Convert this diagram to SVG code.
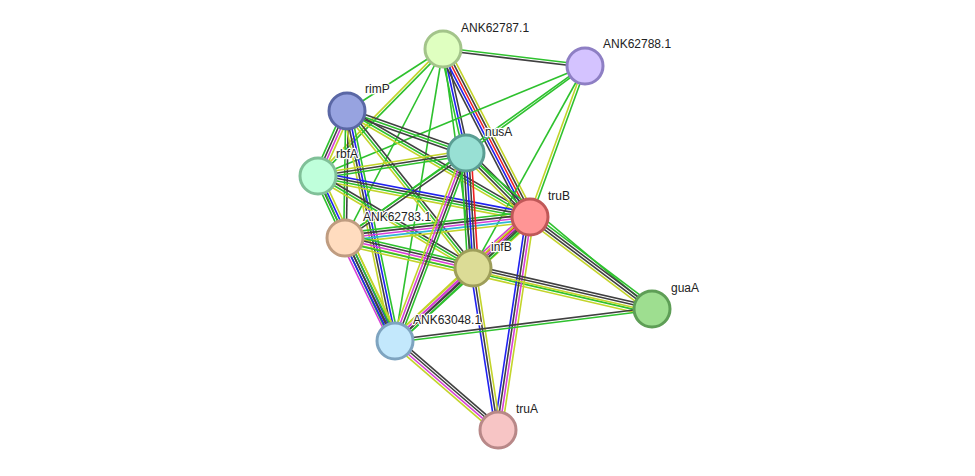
<svg xmlns="http://www.w3.org/2000/svg" width="975" height="476" viewBox="0 0 975 476">
<style>
line{stroke-width:1.6;fill:none}
.G{stroke:#2ec12e}.Y{stroke:#c3d42a}.K{stroke:#404040}.M{stroke:#d63fd6}.C{stroke:#2fb6d8}.B{stroke:#2020f0}.R{stroke:#f02020}
circle{stroke-width:3}
text{font-family:"Liberation Sans",Arial,sans-serif;font-size:12px;fill:#222;stroke:#fff;stroke-width:2.5;paint-order:stroke;stroke-linejoin:round}
</style>
<rect width="975" height="476" fill="#fff"/>
<g id="edges">
<g transform="translate(443,49) rotate(6.83)"><line class="G" x2="143" y1="-1.3" y2="-1.3"/><line class="K" x2="143" y1="1.3" y2="1.3"/></g>
<g transform="translate(443,49) rotate(147.14)"><line class="G" x2="114.3"/></g>
<g transform="translate(443,49) rotate(134.55)"><line class="G" x2="178.2" y1="-1.3" y2="-1.3"/><line class="Y" x2="178.2" y1="1.3" y2="1.3"/></g>
<g transform="translate(443,49) rotate(117.4)"><line class="G" x2="212.9"/></g>
<g transform="translate(443,49) rotate(77.53)"><line class="G" x2="106.5" y1="2.6" y2="2.6"/><line class="B" x2="106.5"/><line class="K" x2="106.5" y1="-2.6" y2="-2.6"/></g>
<g transform="translate(443,49) rotate(62.62)"><line class="Y" x2="189.2" y1="-5.2" y2="-5.2"/><line class="K" x2="189.2" y1="-2.6" y2="-2.6"/><line class="R" x2="189.2"/><line class="B" x2="189.2" y1="2.6" y2="2.6"/><line class="K" x2="189.2" y1="5.2" y2="5.2"/></g>
<g transform="translate(443,49) rotate(82.2)"><line class="G" x2="221"/></g>
<g transform="translate(443,49) rotate(99.33)"><line class="G" x2="295.9"/></g>
<g transform="translate(585,66) rotate(143.83)"><line class="G" x2="147.4" y1="-0.8" y2="-0.8"/></g>
<g transform="translate(585,66) rotate(157.61)"><line class="G" x2="288.8"/></g>
<g transform="translate(585,66) rotate(110)"><line class="G" x2="160.7" y1="-1.3" y2="-1.3"/><line class="Y" x2="160.7" y1="1.3" y2="1.3"/></g>
<g transform="translate(585,66) rotate(119)"><line class="G" x2="231"/></g>
<g transform="translate(585,66) rotate(144.4)"><line class="G" x2="295.3" y1="0.8" y2="0.8"/></g>
<g transform="translate(347,111) rotate(114.04)"><line class="Y" x2="71.2" y1="-3.9" y2="-3.9"/><line class="M" x2="71.2" y1="-1.3" y2="-1.3"/><line class="K" x2="71.2" y1="1.3" y2="1.3"/><line class="G" x2="71.2" y1="3.9" y2="3.9"/></g>
<g transform="translate(347,111) rotate(90.9)"><line class="K" x2="127" y1="-1.3" y2="-1.3"/><line class="G" x2="127" y1="1.3" y2="1.3"/></g>
<g transform="translate(347,111) rotate(78.21)"><line class="G" x2="235" y1="-3.9" y2="-3.9"/><line class="B" x2="235" y1="-1.3" y2="-1.3"/><line class="K" x2="235" y1="1.3" y2="1.3"/><line class="Y" x2="235" y1="3.9" y2="3.9"/></g>
<g transform="translate(347,111) rotate(19.44)"><line class="K" x2="126.2" y1="-2.6" y2="-2.6"/><line class="G" x2="126.2"/><line class="K" x2="126.2" y1="2.6" y2="2.6"/></g>
<g transform="translate(347,111) rotate(30.08)"><line class="K" x2="211.5" y1="-2.6" y2="-2.6"/><line class="G" x2="211.5"/><line class="Y" x2="211.5" y1="2.6" y2="2.6"/></g>
<g transform="translate(347,111) rotate(51.25)"><line class="K" x2="201.3" y1="-2.6" y2="-2.6"/><line class="G" x2="201.3"/><line class="Y" x2="201.3" y1="2.6" y2="2.6"/></g>
<g transform="translate(318,176) rotate(-8.83)"><line class="Y" x2="149.8" y1="-2.6" y2="-2.6"/><line class="K" x2="149.8"/><line class="G" x2="149.8" y1="2.6" y2="2.6"/></g>
<g transform="translate(318,176) rotate(10.95)"><line class="B" x2="215.9" y1="-3.9" y2="-3.9"/><line class="K" x2="215.9" y1="-1.3" y2="-1.3"/><line class="G" x2="215.9" y1="1.3" y2="1.3"/><line class="Y" x2="215.9" y1="3.9" y2="3.9"/></g>
<g transform="translate(318,176) rotate(30.69)"><line class="K" x2="180.2" y1="-2.6" y2="-2.6"/><line class="G" x2="180.2"/><line class="Y" x2="180.2" y1="2.6" y2="2.6"/></g>
<g transform="translate(318,176) rotate(64.98)"><line class="Y" x2="182.1" y1="-3.9" y2="-3.9"/><line class="B" x2="182.1" y1="-1.3" y2="-1.3"/><line class="K" x2="182.1" y1="1.3" y2="1.3"/><line class="G" x2="182.1" y1="3.9" y2="3.9"/></g>
<g transform="translate(318,176) rotate(66.46)"><line class="G" x2="67.6"/></g>
<g transform="translate(345,238) rotate(-35.09)"><line class="G" x2="147.9" y1="-1.3" y2="-1.3"/><line class="K" x2="147.9" y1="1.3" y2="1.3"/></g>
<g transform="translate(345,238) rotate(-6.48)"><line class="G" x2="186.2" y1="-5.2" y2="-5.2"/><line class="K" x2="186.2" y1="-2.6" y2="-2.6"/><line class="M" x2="186.2"/><line class="C" x2="186.2" y1="2.6" y2="2.6"/><line class="Y" x2="186.2" y1="5.2" y2="5.2"/></g>
<g transform="translate(345,238) rotate(13.19)"><line class="G" x2="131.5" y1="-3.9" y2="-3.9"/><line class="K" x2="131.5" y1="-1.3" y2="-1.3"/><line class="M" x2="131.5" y1="1.3" y2="1.3"/><line class="Y" x2="131.5" y1="3.9" y2="3.9"/></g>
<g transform="translate(345,238) rotate(64.1)"><line class="Y" x2="114.5" y1="-5.2" y2="-5.2"/><line class="G" x2="114.5" y1="-2.6" y2="-2.6"/><line class="K" x2="114.5"/><line class="B" x2="114.5" y1="2.6" y2="2.6"/><line class="M" x2="114.5" y1="5.2" y2="5.2"/></g>
<g transform="translate(345,238) rotate(13.02)"><line class="G" x2="315.1" y1="4.5" y2="4.5"/><line class="Y" x2="315.1" y1="7.1" y2="7.1"/></g>
<g transform="translate(466,153) rotate(45)"><line class="K" x2="90.5" y1="-3.9" y2="-3.9"/><line class="G" x2="90.5" y1="-1.3" y2="-1.3"/><line class="K" x2="90.5" y1="1.3" y2="1.3"/><line class="Y" x2="90.5" y1="3.9" y2="3.9"/></g>
<g transform="translate(466,153) rotate(86.52)"><line class="R" x2="115.2" y1="-5.2" y2="-5.2"/><line class="K" x2="115.2" y1="-2.6" y2="-2.6"/><line class="B" x2="115.2"/><line class="K" x2="115.2" y1="2.6" y2="2.6"/><line class="G" x2="115.2" y1="5.2" y2="5.2"/></g>
<g transform="translate(466,153) rotate(110.69)"><line class="G" x2="201" y1="-3.9" y2="-3.9"/><line class="K" x2="201" y1="-1.3" y2="-1.3"/><line class="M" x2="201" y1="1.3" y2="1.3"/><line class="Y" x2="201" y1="3.9" y2="3.9"/></g>
<g transform="translate(466,153) rotate(39.99)"><line class="G" x2="242.8"/></g>
<g transform="translate(530,217) rotate(138.18)"><line class="Y" x2="76.5" y1="-5.2" y2="-5.2"/><line class="G" x2="76.5" y1="-2.6" y2="-2.6"/><line class="K" x2="76.5"/><line class="R" x2="76.5" y1="2.6" y2="2.6"/><line class="M" x2="76.5" y1="5.2" y2="5.2"/></g>
<g transform="translate(530,217) rotate(37.02)"><line class="G" x2="152.8" y1="-3.9" y2="-3.9"/><line class="K" x2="152.8" y1="-1.3" y2="-1.3"/><line class="K" x2="152.8" y1="1.3" y2="1.3"/><line class="Y" x2="152.8" y1="3.9" y2="3.9"/></g>
<g transform="translate(530,217) rotate(137.43)"><line class="G" x2="183.3" y1="-3.9" y2="-3.9"/><line class="K" x2="183.3" y1="-1.3" y2="-1.3"/><line class="M" x2="183.3" y1="1.3" y2="1.3"/><line class="Y" x2="183.3" y1="3.9" y2="3.9"/></g>
<g transform="translate(530,217) rotate(98.54)"><line class="Y" x2="215.4" y1="-3.9" y2="-3.9"/><line class="M" x2="215.4" y1="-1.3" y2="-1.3"/><line class="K" x2="215.4" y1="1.3" y2="1.3"/><line class="B" x2="215.4" y1="3.9" y2="3.9"/></g>
<g transform="translate(473,268) rotate(12.9)"><line class="K" x2="183.6" y1="-2.6" y2="-2.6"/><line class="K" x2="183.6"/><line class="Y" x2="183.6" y1="2.6" y2="2.6"/></g>
<g transform="translate(473,268) rotate(136.9)"><line class="G" x2="106.8" y1="-3.9" y2="-3.9"/><line class="K" x2="106.8" y1="-1.3" y2="-1.3"/><line class="M" x2="106.8" y1="1.3" y2="1.3"/><line class="Y" x2="106.8" y1="3.9" y2="3.9"/></g>
<g transform="translate(473,268) rotate(81.23)"><line class="Y" x2="163.9" y1="-2.6" y2="-2.6"/><line class="K" x2="163.9"/><line class="B" x2="163.9" y1="2.6" y2="2.6"/></g>
<g transform="translate(395,341) rotate(-7.1)"><line class="K" x2="259" y1="-1.3" y2="-1.3"/><line class="G" x2="259" y1="1.3" y2="1.3"/></g>
<g transform="translate(395,341) rotate(40.83)"><line class="K" x2="136.1" y1="-3.9" y2="-3.9"/><line class="K" x2="136.1" y1="-1.3" y2="-1.3"/><line class="M" x2="136.1" y1="1.3" y2="1.3"/><line class="Y" x2="136.1" y1="3.9" y2="3.9"/></g>
</g>
<g id="ANK62787.1"><circle cx="443" cy="49" r="18" fill="#dfffc0" stroke="#a3c48a"/><text x="461" y="32">ANK62787.1</text></g>
<g id="ANK62788.1"><circle cx="585" cy="66" r="18" fill="#d4c3ff" stroke="#8e7fc4"/><text x="603" y="48">ANK62788.1</text></g>
<g id="rimP"><circle cx="347" cy="111" r="18" fill="#97a3e0" stroke="#5a67a5"/><text x="365" y="93">rimP</text></g>
<g id="nusA"><circle cx="466" cy="153" r="18" fill="#98e0d4" stroke="#5a9e93"/><text x="485" y="136">nusA</text></g>
<g id="rbfA"><circle cx="318" cy="176" r="18" fill="#bfffdb" stroke="#80c098"/><text x="336" y="158">rbfA</text></g>
<g id="truB"><circle cx="530" cy="217" r="18" fill="#ff9595" stroke="#c05858"/><text x="548" y="200">truB</text></g>
<g id="ANK62783.1"><circle cx="345" cy="238" r="18" fill="#ffdcbf" stroke="#bf9c80"/><text x="363" y="221">ANK62783.1</text></g>
<g id="infB"><circle cx="473" cy="268" r="18" fill="#dcdc96" stroke="#9e9e5a"/><text x="491" y="251">infB</text></g>
<g id="guaA"><circle cx="652" cy="309" r="18" fill="#9ede90" stroke="#5e9e56"/><text x="671" y="292">guaA</text></g>
<g id="ANK63048.1"><circle cx="395" cy="341" r="18" fill="#c3e8fc" stroke="#7ea4c0"/><text x="413" y="324">ANK63048.1</text></g>
<g id="truA"><circle cx="498" cy="430" r="18" fill="#f7c5c5" stroke="#b88888"/><text x="516" y="413">truA</text></g>
</svg>
